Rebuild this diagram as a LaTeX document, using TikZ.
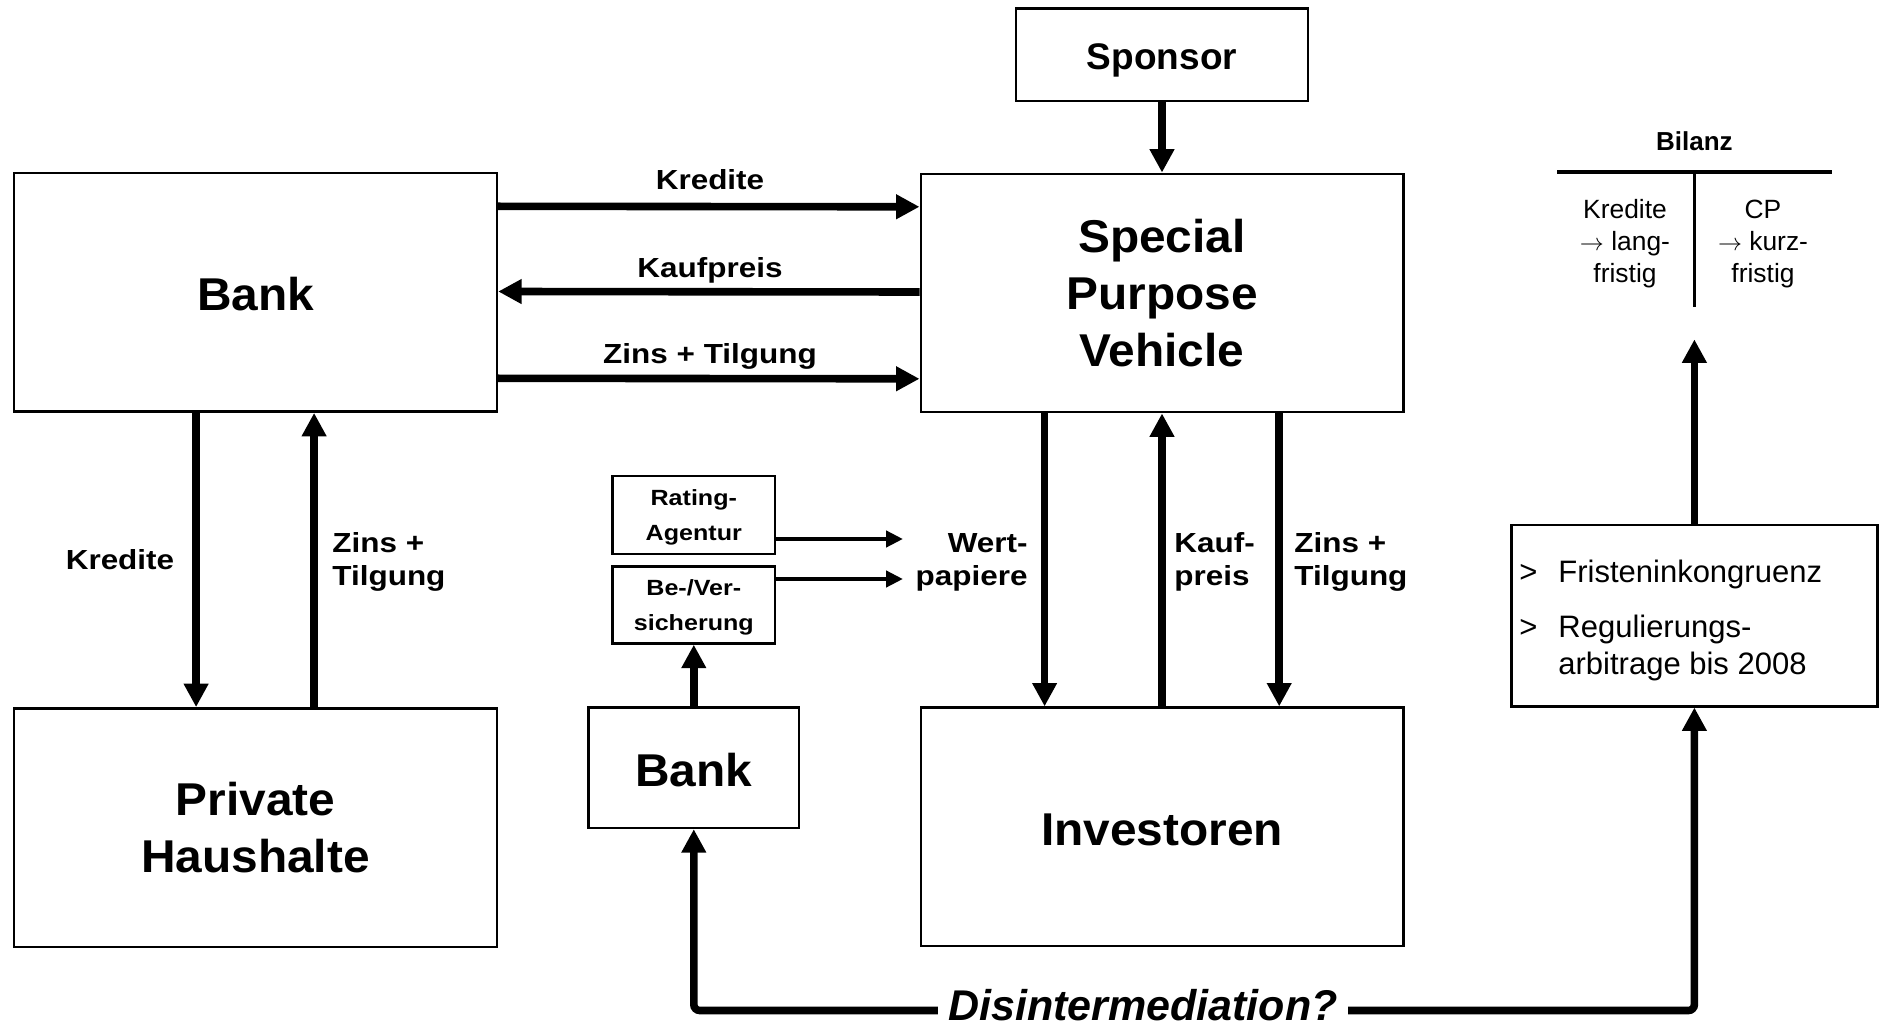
\documentclass[tikz,border=0pt]{standalone}
\usepackage{fontspec}
\setmainfont{Liberation Sans}
\newfontfamily\widefont[FakeStretch=1.14]{Liberation Sans}
\newfontfamily\bigfont[FakeStretch=1.04]{Liberation Sans}
\usetikzlibrary{arrows.meta}

\begin{document}
\begin{tikzpicture}[x=0.5pt,y=-0.5pt,
  box/.style={draw, line width=1.2pt, inner sep=0pt, align=center},
  bigtext/.style={font=\bigfont\fontsize{23}{28.6}\selectfont\bfseries},
  bigone/.style={bigtext, text height=18.5pt},
  smalltext/.style={font=\widefont\fontsize{11}{17.5}\selectfont\bfseries, text depth=0pt},
  lbl/.style={font=\widefont\fontsize{13.8}{16.5}\selectfont\bfseries, inner sep=0pt},
  flow/.style={line width=3.8pt, -{Triangle[length=11.7pt,width=11.7pt]}},
  thinflow/.style={line width=2.3pt, -{Triangle[length=8.5pt,width=8pt]}},
  bilanztext/.style={font=\fontsize{13.2}{16}\selectfont, align=center, inner sep=0pt, anchor=base},
]
\useasboundingbox (0,0) rectangle (1887,1027);

% main boxes
\node[box, bigone, minimum width=241.5pt, minimum height=119.2pt] (bank) at (255.5,292.5) {Bank};
\node[box, bigtext, minimum width=241.5pt, minimum height=119.2pt] (haus) at (255.5,827.5) {Private\\Haushalte};
\node[box, bigtext, minimum width=241.3pt, minimum height=119.2pt] (spv) at (1162,293) {Special\\Purpose\\Vehicle};
\node[box, bigone, minimum width=241.3pt, minimum height=119.2pt] (inv) at (1162,826.8) {Investoren};
\node[box, font=\fontsize{18.5}{18.5}\selectfont\bfseries, text height=15pt, text depth=0pt,
      minimum width=146.2pt, minimum height=46.4pt] (sponsor) at (1162,54.8) {Sponsor};
\node[box, bigone, minimum width=105.3pt, minimum height=60.2pt] (bank2) at (693.8,767.8) {Bank};
\node[box, smalltext, minimum width=81.2pt, minimum height=39pt] (rating) at (693.8,515) {Rating-\\Agentur};
\node[box, smalltext, minimum width=81.2pt, minimum height=38.5pt] (vers) at (693.8,605) {Be-/Ver-\\sicherung};
\node[box, minimum width=182.9pt, minimum height=90.8pt] (risk) at (1694.4,615.5) {};

% text of the risk box
\node[font=\fontsize{15.5}{18.5}\selectfont, align=left, inner sep=0pt, anchor=base west] (risktext) at (1519,674.5)
  {\makebox[19.5pt][l]{>}Fristeninkongruenz\\[9pt]
   \makebox[19.5pt][l]{>}Regulierungs-\\
   \hspace*{19.5pt}arbitrage bis 2008};

% flows between bank and SPV
\draw[flow] ([yshift=43.1pt]bank.east) -- ([yshift=43.1pt]spv.west);
\draw[flow] ([yshift=0.5pt]spv.west) -- ([yshift=0.5pt]bank.east);
\draw[flow] ([yshift=-42.9pt]bank.east) -- ([yshift=-42.9pt]spv.west);
\node[lbl, anchor=base] (lkred) at (710,190) {Kredite};
\node[lbl, anchor=base] (lkauf) at (710,278) {Kaufpreis};
\node[lbl, anchor=base] (lzins) at (710,364) {Zins + Tilgung};

% flows between bank and households
\draw[flow] ([xshift=-29.7pt]bank.south) -- ([xshift=-29.7pt]haus.north);
\draw[flow] ([xshift=29.3pt]haus.north) -- ([xshift=29.3pt]bank.south);
\node[lbl, anchor=base] (lkred2) at (120,569) {Kredite};
\node[lbl, anchor=base west, align=left] (lzins2) at (332,585) {Zins +\\Tilgung};

% sponsor
\draw[flow] (sponsor.south) -- (spv.north);

% flows between SPV and investors
\draw[flow] ([xshift=-58.7pt]spv.south) -- ([xshift=-58.7pt]inv.north);
\draw[flow] (inv.north) -- (spv.south);
\draw[flow] ([xshift=58.6pt]spv.south) -- ([xshift=58.6pt]inv.north);
\node[lbl, anchor=base east, align=right] (lwp) at (1028,585) {Wert-\\papiere};
\node[lbl, anchor=base west, align=left] (lkauf2) at (1174,585) {Kauf-\\preis};
\node[lbl, anchor=base west, align=left] (lzins3) at (1294,585) {Zins +\\Tilgung};

% rating and insurance
\coordinate (wp1) at (903,539);
\coordinate (wp2) at (903,579);
\draw[thinflow] (rating.east |- wp1) -- (wp1);
\draw[thinflow] (vers.east |- wp2) -- (wp2);
\draw[flow] (bank2.north) -- (vers.south);

% balance sheet
\node[font=\fontsize{13}{13}\selectfont\bfseries, inner sep=0pt, anchor=base] (bil) at (1694.4,151) {Bilanz};
\coordinate (bl) at (1557,172);
\coordinate (br) at (1832,172);
\coordinate (bt) at (1694.4,172);
\coordinate (bb) at (1694.4,307);
\draw[line width=1.7pt] (bl) -- (br);
\draw[line width=1.7pt] (bt) -- (bb);
\node[bilanztext] (aktiva) at (1625,283) {Kredite\\$\rightarrow$ lang-\\fristig};
\node[bilanztext] (passiva) at (1763,283) {CP\\$\rightarrow$ kurz-\\fristig};
\coordinate (bilup) at (1694.4,339.4);
\draw[flow] (risk.north) -- (bilup);

% disintermediation
\node[font=\fontsize{21.5}{21.5}\selectfont\bfseries\itshape, inner xsep=5pt, inner ysep=0pt, anchor=base] (dis) at (1143,1020) {Disintermediation?};
\coordinate (dline) at (0,1010.5);
\draw[flow, rounded corners=3pt] (dis.west |- dline) -| (bank2.south);
\draw[flow, rounded corners=3pt] (dis.east |- dline) -| (risk.south);
\end{tikzpicture}
\end{document}
